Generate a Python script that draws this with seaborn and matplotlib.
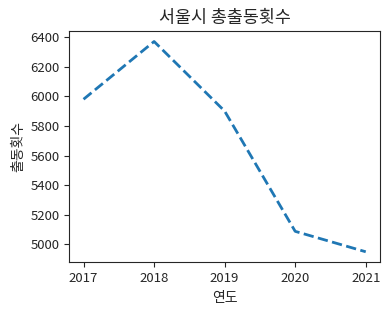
import pandas as pd
import matplotlib
matplotlib.use("Agg")
import matplotlib.pyplot as plt
import seaborn as sns

years = [2017, 2018, 2019, 2020, 2021]
counts = [5980, 6370, 5900, 5088, 4950]

df = pd.DataFrame({"연도": years, "출동횟수": counts})

sns.set_style("ticks")
plt.rcParams['font.family'] = ['Noto Sans CJK KR', 'DejaVu Sans']
plt.rcParams['axes.unicode_minus'] = False

fig, ax = plt.subplots(figsize=(3.9, 3.13), dpi=100)
fig.subplots_adjust(left=0.178, right=0.974, bottom=0.162, top=0.901)

sns.lineplot(data=df, x="연도", y="출동횟수", ax=ax, linestyle="--", linewidth=2, color="#1f77b4")

ax.set_xticks(years)
ax.set_title("서울시 총출동횟수", fontsize=12.5)
ax.set_xlabel("연도", fontsize=10)
ax.set_ylabel("출동횟수", fontsize=10)
ax.tick_params(labelsize=9.5)
for s in ax.spines.values():
    s.set_visible(True)

plt.savefig("out.png", dpi=100)
